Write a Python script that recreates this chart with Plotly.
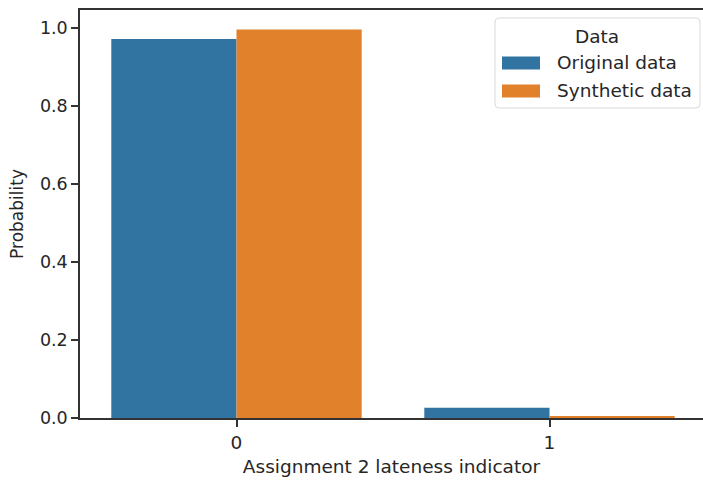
import plotly.graph_objects as go

categories = [0, 1]
tick_labels = ["0", "1"]
original = [0.972, 0.026]
synthetic = [0.996, 0.004]
series_names = ["Original data", "Synthetic data"]
colors = ["#3274a1", "#e1812c"]
y_ticks = [0.0, 0.2, 0.4, 0.6, 0.8, 1.0]

W, H = 703, 480
L, R, T, B = 80, 703, 10, 418
FONT = "DejaVu Sans"
FS = 17.5
FS_H = 18.5
TXT = "#262626"

fig = go.Figure()
for name, vals, col in zip(series_names, [original, synthetic], colors):
    fig.add_trace(go.Bar(x=categories, y=vals, name=name, marker=dict(color=col, line=dict(width=0)),
                         showlegend=False))

def px(x):
    return (x - L) / (R - L)

def py(y):
    return (B - y) / (B - T)

# manual legend (matplotlib style)
fig.add_shape(type="path", xref="paper", yref="paper",
              path=("M {a},{b} L {c},{b} Q {d},{b} {d},{e} L {d},{f} Q {d},{g} {c},{g} "
                    "L {a},{g} Q {h},{g} {h},{f} L {h},{e} Q {h},{b} {a},{b} Z").format(
                  a=px(499), c=px(696), d=px(700), h=px(495), b=py(18), e=py(22), f=py(104), g=py(108)),
              line=dict(color="#d9d9d9", width=1), fillcolor="rgba(255,255,255,0.8)", layer="above")
fig.add_annotation(xref="paper", yref="paper", x=px(597), y=py(36), text="Data", showarrow=False,
                   xanchor="center", yanchor="middle", font=dict(family=FONT, size=FS_H, color=TXT))
for i, (name, col) in enumerate(zip(series_names, colors)):
    yc = 63 + i * 28
    fig.add_shape(type="rect", xref="paper", yref="paper", x0=px(502), x1=px(540), y0=py(yc + 6.5), y1=py(yc - 6.5),
                  line=dict(width=0), fillcolor=col, layer="above")
    fig.add_annotation(xref="paper", yref="paper", x=px(555), y=py(yc), text=name, showarrow=False,
                       xanchor="left", yanchor="middle", font=dict(family=FONT, size=FS_H, color=TXT))

fig.update_layout(
    width=W, height=H,
    margin=dict(l=L, r=W - R, t=T, b=H - B),
    paper_bgcolor="white", plot_bgcolor="white",
    barmode="group", bargap=0.2, bargroupgap=0,
    font=dict(family=FONT, size=FS, color=TXT),
    showlegend=False,
)
fig.update_xaxes(
    range=[-0.5, -0.5 + (R - L) / 313.0], tickvals=categories, ticktext=tick_labels,
    tickfont=dict(family=FONT, size=FS_H, color=TXT),
    showgrid=False, zeroline=False, showline=True, linecolor="#333333", linewidth=1.5, mirror=True,
    ticks="outside", ticklen=7, tickwidth=1.5, tickcolor="#333333",
    title=dict(text="Assignment 2 lateness indicator", font=dict(family=FONT, size=FS_H, color=TXT), standoff=8),
)
fig.update_yaxes(
    range=[0, (B - T) / 390.0], tickvals=y_ticks, tickformat=".1f",
    showgrid=False, zeroline=False, showline=True, linecolor="#333333", linewidth=1.5,
    ticks="outside", ticklen=7, tickwidth=1.5, tickcolor="#333333",
    title=dict(text="Probability", font=dict(family=FONT, size=17, color=TXT), standoff=12),
)

fig.write_html("out.html")
